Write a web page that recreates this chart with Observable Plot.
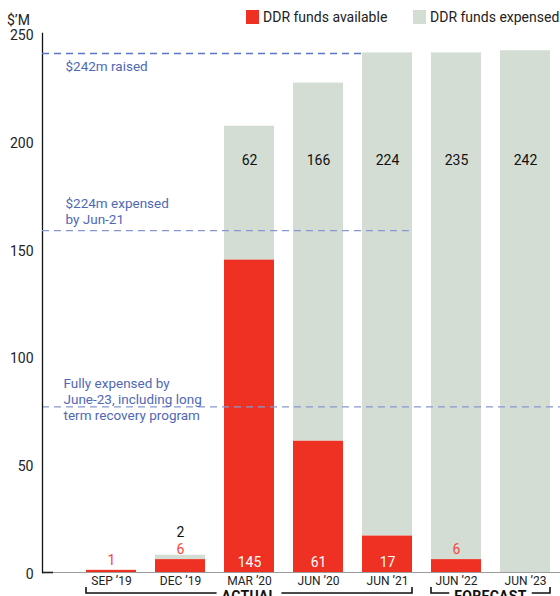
<!DOCTYPE html>
<html>
<head>
<meta charset="utf-8">
<script src="https://cdn.jsdelivr.net/npm/d3@7"></script>
<script src="https://cdn.jsdelivr.net/npm/@observablehq/plot@0.6"></script>
<style>
  html, body { margin: 0; padding: 0; overflow: hidden; background: #fff; }
  #wrap { position: relative; width: 560px; height: 596px; overflow: hidden; font-family: Roboto, "Noto Sans", sans-serif; color: #222; }
  #chart svg { display: block; }
  .unit { position: absolute; left: 7px; top: 11px; font-size: 14px; line-height: 18px; }
  .legend { position: absolute; top: 8px; font-size: 14px; line-height: 18px; white-space: nowrap; }
  .legend .sw { position: absolute; top: 2px; width: 13px; height: 14px; }
  .legend .lab { position: absolute; top: 0; }
</style>
</head>
<body>
<div id="wrap">
  <div id="chart"></div>
  <div class="unit">$’M</div>
  <div class="legend" id="legend"></div>
</div>
<script>
// ---- data ----
const periods   = ["SEP ’19", "DEC ’19", "MAR ’20", "JUN ’20", "JUN ’21", "JUN ’22", "JUN ’23"];
const available = [1, 6, 145, 61, 17, 6, 0];
const expensed  = [0, 2, 62, 166, 224, 235, 242];
const seriesNames = ["DDR funds available", "DDR funds expensed"];
const yTicks = [0, 50, 100, 150, 200, 250];
const noteValues = [240.5, 158.3, 76.8];
const noteTexts = [
  "$242m raised",
  "$224m expensed\nby Jun-21",
  "Fully expensed by\nJune-23, including long\nterm recovery program"
];
const noteEnds = [["JUN ’21", "start"], ["JUN ’21", "end"], null];
const groupLabels = ["ACTUAL", "FORECAST"];
const groupFrom = ["SEP ’19", "JUN ’22"];
const groupTo = ["JUN ’21", "JUN ’23"];

// ---- styling ----
const RED = "#ef3124";
const GRAY = "#d4ddd3";
const BLUE_TEXT = "#5068b6";
const LINE_COLORS = ["#5a76cc", "#8797cf", "#8797cf"];
const FONT = "Roboto, 'Noto Sans', sans-serif";

// table for stacking
const rows = [];
periods.forEach((p, i) => {
  rows.push({period: p, series: seriesNames[0], value: available[i], avail: available[i], exp: expensed[i]});
  rows.push({period: p, series: seriesNames[1], value: expensed[i], avail: available[i], exp: expensed[i]});
});
const availRows = rows.filter(d => d.series === seriesNames[0]);
const notes = noteValues.map((v, i) => ({value: v, text: noteTexts[i]}));

const chart = Plot.plot({
  width: 560,
  height: 612,
  marginTop: 33,
  marginBottom: 40,
  marginLeft: 42,
  marginRight: 0,
  style: {fontFamily: FONT, background: "white", overflow: "visible"},
  x: {domain: periods, range: [73.55, 563.55], paddingInner: 0.27, paddingOuter: 0.135, align: 0.5},
  y: {domain: [0, 250]},
  color: {domain: seriesNames, range: [RED, GRAY]},
  marks: [
    Plot.ruleY([0], {stroke: "#9b9b9b", strokeWidth: 1}),
    Plot.ruleY([0], {stroke: "#222", strokeWidth: 1.6, insetRight: 507}),
    Plot.barY(rows, {x: "period", y: "value", fill: "series"}),
    Plot.ruleY(notes.slice(2, 3), {y: "value", stroke: LINE_COLORS[2], strokeWidth: 1.3, strokeDasharray: "7,5"}),
    // annotation texts
    Plot.text(notes.slice(0, 1), {y: "value", text: "text", frameAnchor: "left", dx: 23, dy: 13, textAnchor: "start", fill: BLUE_TEXT, fontSize: 13.5}),
    Plot.text(notes.slice(1, 2), {y: "value", text: "text", frameAnchor: "left", dx: 23, dy: -7, lineAnchor: "bottom", lineHeight: 1.2, textAnchor: "start", fill: BLUE_TEXT, fontSize: 13.5}),
    Plot.text(notes.slice(2, 3), {y: "value", text: "text", frameAnchor: "left", dx: 21, dy: -8, lineAnchor: "middle", lineHeight: 1.2, textAnchor: "start", fill: BLUE_TEXT, fontSize: 13.5}),
    // value labels: funds available
    Plot.text(availRows.filter(d => d.avail >= 15), {x: "period", y: () => 0, text: d => String(d.avail), dy: -10, fill: "white", fontSize: 14}),
    Plot.text(availRows.filter(d => d.avail > 0 && d.avail < 15), {x: "period", y: "avail", text: d => String(d.avail), dy: -10, fill: "#f2483c", fontSize: 14}),
    // value labels: funds expensed
    Plot.text(availRows.filter(d => d.exp >= 50), {x: "period", y: () => 191, text: d => String(d.exp), fill: "#111", fontSize: 14}),
    Plot.text(availRows.filter(d => d.exp > 0 && d.exp < 50), {x: "period", y: "avail", text: d => String(d.exp), dy: -27, fill: "#111", fontSize: 14}),
    // axes
    Plot.axisY({ticks: yTicks, tickSize: 0, tickPadding: 9, dy: 2, fontSize: 14, label: null, fill: "#222"}),
    Plot.axisX({tickSize: 0, tickPadding: 4, fontSize: 12, label: null, fill: "#222"}),
    Plot.frame({anchor: "left", stroke: "#111", strokeWidth: 1.3})
  ]
});
document.getElementById("chart").appendChild(chart);

const sx = chart.scale("x");
const sy = chart.scale("y");
const base = sy.apply(0);
const svg = d3.select(chart);

// dashed reference lines that stop at a bar edge (drawn with the chart's scales)
notes.forEach((n, i) => {
  const end = noteEnds[i];
  if (!end) return;
  const xe = sx.apply(end[0]) + (end[1] === "end" ? sx.bandwidth : 0);
  const y = sy.apply(n.value);
  svg.append("line")
    .attr("x1", 42).attr("x2", xe).attr("y1", y).attr("y2", y)
    .attr("stroke", LINE_COLORS[i]).attr("stroke-width", 1.3).attr("stroke-dasharray", "7,5");
});

// group brackets under the axis
const g = svg.append("g").attr("fill", "none").attr("stroke", "#111").attr("stroke-width", 1.6);
groupLabels.forEach((lab, i) => {
  const x0 = sx.apply(groupFrom[i]);
  const x1 = sx.apply(groupTo[i]) + sx.bandwidth;
  const yl = base + 21, yt = base + 15;
  const cx = (x0 + x1) / 2;
  const t = svg.append("text")
    .attr("x", cx).attr("y", yl + 8)
    .attr("text-anchor", "middle")
    .attr("font-family", FONT).attr("font-weight", "bold").attr("font-size", 14)
    .attr("letter-spacing", "0.3px")
    .attr("fill", "#111")
    .text(lab);
  const w = t.node().getComputedTextLength() / 2 + 5;
  g.append("path").attr("d", `M${x0},${yt}V${yl}H${cx - w}M${cx + w},${yl}H${x1}V${yt}`);
});

// legend
const legend = document.getElementById("legend");
const legendX = [246, 413];
seriesNames.forEach((name, i) => {
  const sw = document.createElement("div");
  sw.className = "sw";
  sw.style.left = legendX[i] + "px";
  sw.style.background = [RED, GRAY][i];
  const t = document.createElement("div");
  t.className = "lab";
  t.style.left = (legendX[i] + 17) + "px";
  t.textContent = name;
  legend.appendChild(sw);
  legend.appendChild(t);
});
legend.style.left = "0px";
</script>
</body>
</html>
